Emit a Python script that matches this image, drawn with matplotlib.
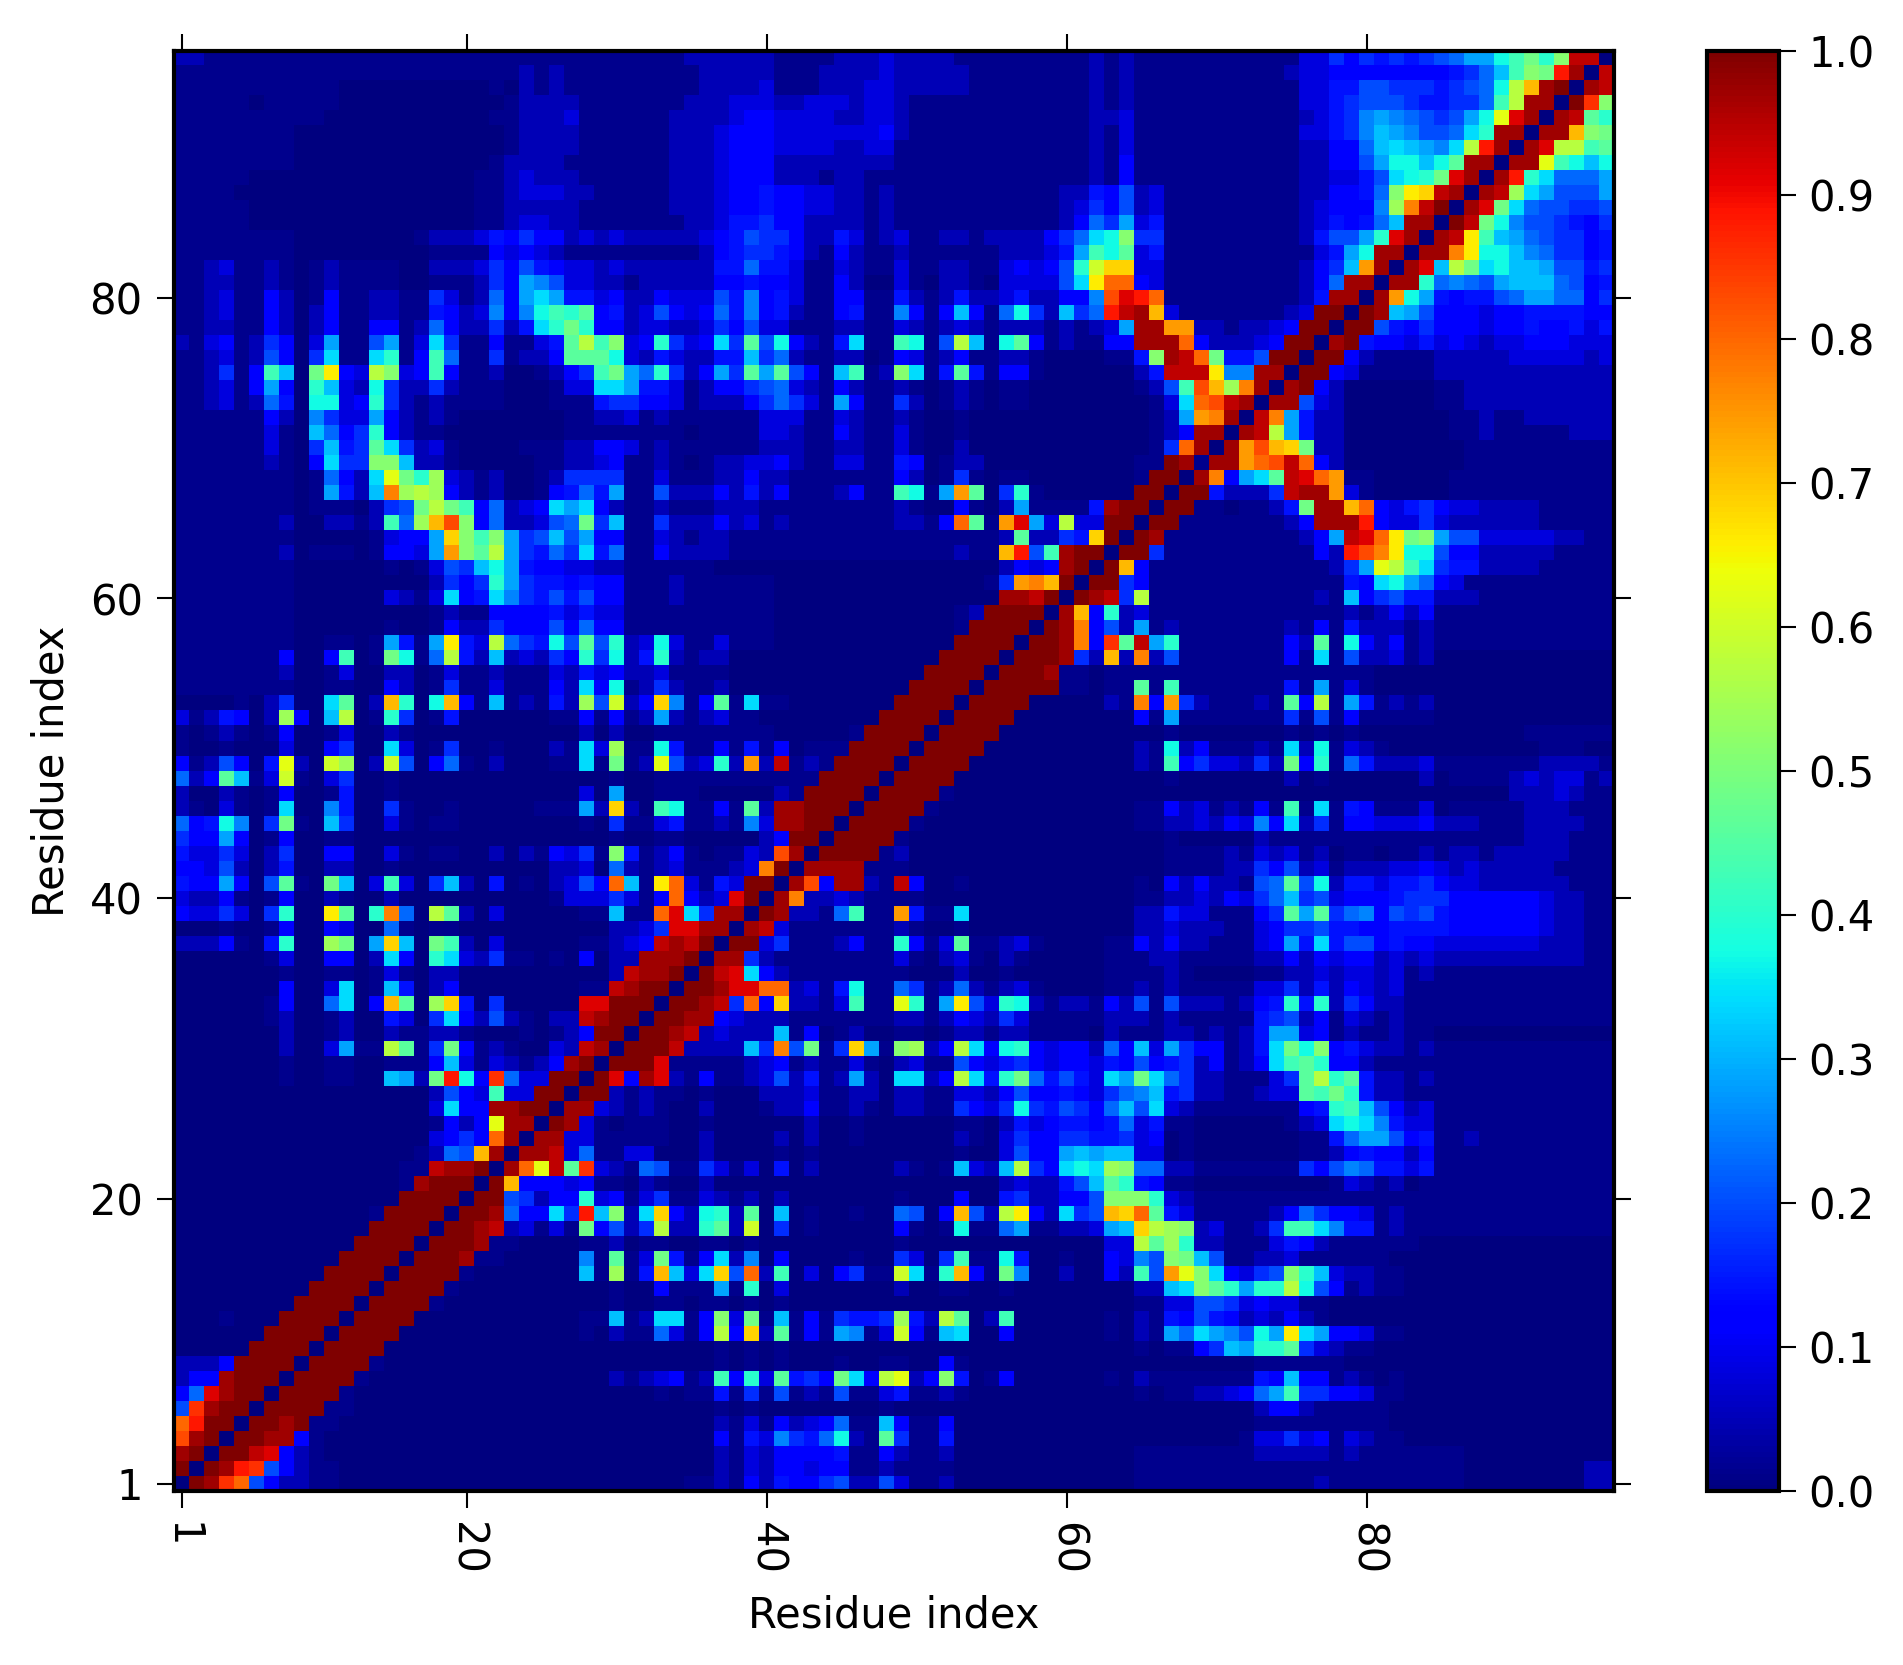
import numpy as np
import matplotlib
matplotlib.use('Agg')
import matplotlib.pyplot as plt

# one character per cell: 0 = 0.0 ... z = 1.0
levels = '0123456789abcdefghijklmnopqrstuvwxyz'
level_values = np.arange(36) / 35
# the darkest shades sit closer together than the rest
level_values[1] = 0.015
level_values[2] = 0.05

# top row of the picture first (residue 96), left to right residue 1..96
contact_rows = [
'22111111 11111111 11111111 11111111 11222222 11112223 22221111 11111212 11111111 11133646 565678aa dfheixx0',
'11111111 11111111 11111112 12111111 11122222 11122223 22222111 11111212 11111111 11233444 44444568 bfihvy0x',
'11111111 11100000 00000102 12111111 11122223 11122233 22222111 11111212 11111111 11133557 76665678 dkpyz0yx',
'11111011 11100000 00000012 22211111 11222333 22333233 21111111 11111212 11111111 11133567 77655668 fkyy0zui',
'11111111 11000000 00000112 22311111 12222344 33332233 21111111 11111223 11111111 11123569 a98767ad mwy0yxge',
'11111111 00000000 00000012 22211111 12223444 33333334 21111111 11111213 11111111 11133569 ba9778ce yy0yypih',
'11111111 00000000 00000012 22211111 12223444 33332233 11111111 11111213 11111111 11122448 bcba9ckv y0ywkkfg',
'11111111 00000000 00000122 22111111 12223444 22222222 11111111 11111214 11111111 11122447 addbdgyy 0yymfdbd',
'11111000 00000000 00001123 22211111 12223444 22212211 11111111 11111214 11111111 11122335 7cdehwy0 yvec888a',
'11110000 00000000 00001123 33221111 12223445 44332212 11111111 11122547 23111111 11122445 8inoxy0y xjca777a',
'11111000 00000000 00001122 22211111 12223445 44332212 11111111 11123647 23111111 11123444 9jrxz0yw hc877667',
'11111000 00000000 00001123 32211111 11223556 44222212 11111111 1112486a 35111111 11123545 8byy0zxh d9776546',
'11111111 00000000 12223546 44232322 22234576 64225312 31122122 22468cdi 66111111 1112577a ewy0yxnf ba876645',
'11111111 00000000 01111434 32111111 11124566 54214211 21111112 2235afdg 35111111 111135ad yy0yyrnd db986645',
'11231121 01211110 02223647 54332322 22225585 53113211 31122113 4347eloo 33111111 111246bq y0ywbkhc dbba7756',
'11221121 01211110 0111264a 97332212 22224454 43114200 31022103 3337cnss 43111111 111248yy 0yye8987 abbb8745',
'11231142 01411221 1631284a ca553422 43337594 53114411 52125223 522449tw vs111111 11125yy0 yqda5455 78aa8846',
'11231142 02411221 15423949 dfeg4523 74348594 52114511 9414b418 d62b68vx yp311111 1123zz0z yba74443 44555544',
'11221142 02411441 28422625 cehe4423 32236473 31112211 32123212 2212123a yyqq2212 234zz0zz 75464443 44544535',
'21341264 03a117a1 3c611411 35gkfi34 e634c6g7 d4215c11 fd17kb1d g4121144 yyys4222 34zz0yz5 44353432 33444333',
'11231274 06c11ce1 4f811612 24gggd32 532255b6 82112201 43124112 21000011 5iyxsh55 7zz0zz42 11112222 23333323',
'112614fb 0hn43ki3 4f411200 1246fha8 e624a6ga g741bf12 ic15g514 41000000 25xxxn99 yy0zz431 11112222 22222222',
'112314a4 0eb32d62 26211100 0133cca5 53124467 83214211 21012101 10000000 127ftpjr y0yz4200 00001122 22222222',
'11231285 0dd34e62 12111100 01115664 43122246 8631a411 62012101 10000000 013cstxy 0yy73200 00001122 22222222',
'11111142 09633a42 12100000 00112231 21111113 33113211 21001000 00000000 012aqry0 xra52200 00000112 11222222',
'11111131 0b846e42 11000000 00111111 11011113 32114211 31001000 00000000 0124yy0y xka52200 00000112 11111222',
'11111131 06b56gc6 23100001 11224431 21111112 22112211 31002000 00000000 016sy0yq tpoh2200 00000011 11111111',
'11111121 04c66iib 22100000 11223411 21012233 42113311 54012200 00000000 11zy1yyq stxs4200 00000011 11111111',
'11111111 01842cmh ej321200 12666611 31112242 21111111 42016101 10000000 1zz0yr4a cgxwsq11 00000111 11111111',
'11111111 01a52brj kj421200 14585a11 72224252 41112411 fd1aqg06 e1000000 zz0zz522 26xyyq31 00000111 11111111',
'11111111 01110267 hkhf4823 4cac4211 21112221 11111111 21004102 a11115yz z0zz1101 125hyyps 43564332 22211111',
'11111112 002212f8 jpti4822 378h6b11 62224231 21111111 2214sg1q wa3k33zz 0zz11111 1124yyyv 43363222 22211111',
'11111111 00000134 4aoifia6 7b7a4411 32122111 11111111 11111112 g2265oz0 zy111111 11124axw snhia773 33332211',
'11111112 01110144 3aqigka6 586c5811 42222111 11111111 1111211p v7fyzz0z z6111111 111142vt rndd7442 22221111',
'11111111 00000010 1376bda5 44332211 11110000 00000000 00000002 434yz0zp 41111111 1111126a mkfc6552 22211111',
'11111111 00000000 02646ea6 55454411 12111111 00000000 00000016 qrpz0zz6 41111111 11111154 cda84311 11111111',
'11111111 00000032 13c45c96 57574411 12111111 00000000 0000000y yxz0zyx6 k1111111 111121b4 67552221 11111111',
'11111111 00000000 01211444 45353311 11111111 00000000 000012zz zz0yp4e2 31111111 11111121 24241111 11111111',
'11111111 00000010 01422644 47484411 11111111 00000000 00001zzz z0zyr472 a1211111 11214152 22121111 11111111',
'11111111 001101a5 1an53k86 5d7g7e23 d3113111 00000000 0000zzzz 0zzyr4ug xae11111 1142g1d4 24121111 11111111',
'11111114 004f01hd 18k52b23 264e6d25 e2122000 00000000 000zzzz0 zzzy62p2 r2711111 1141c172 23120000 00000000',
'11111112 00130022 01311211 13253422 31111000 00000000 00zzzz0z zzy11011 11111111 11111111 00000000 00000000',
'11111111 00110042 01611311 142c4d12 62112000 00000000 0zzzz0zz zzz11011 g1f11111 1151a131 00000000 00000000',
'00001026 00cg02pe 0dp41b12 152j7l24 o914g1c1 10000000 zzzz0zzz z0000021 r4q62111 21g4k1a5 12120000 00000000',
'3125402j 40bk01e6 01500000 01141412 a2123110 0000000z zzz0zzzz 00000000 41a11111 11617141 11110000 00000000',
'10121014 00130021 00000000 00020200 11111111 000001zz zz0zzzz0 00000000 00100000 00101010 00000000 00111111',
'10010003 004600c3 01600100 021c3j11 d5114151 40111zzz z0zzzz00 00000000 21d24111 21c2d132 10000000 00011100',
'4127405m 20lj02l7 04810200 011c1h12 m723e2q2 x121zzzz 0zzzz000 00000000 21f46332 62h4e185 22231111 11122221',
'824gb13l 10360010 00000000 00000100 11111111 111zzzz0 zzzz0000 00000000 00100000 00201000 00020111 12323312',
'20021014 00150010 00000000 00030a00 11100000 21zzzz0z zzz10000 00000000 00000000 00000000 00000000 02223211',
'2103101c 00950061 00100000 111a2o20 fd1141g2 yyzzz0zz zz100000 00000000 11423121 41f1c154 11130111 11222111',
'845d906h 10b60031 01100000 00010611 35112193 yyzz0zzz z1000000 00000000 11223243 94c26144 33342221 11222211',
'644a4014 00110000 00000000 00000100 11000002 4zz0zzzz 10000000 00000000 00100000 21111111 11111111 11222111',
'53363026 00440031 01100202 14361i51 24101132 ty0zzzz1 20000000 00000000 00111121 32312011 01121221 22222111',
'44372025 00220010 00000000 02230821 2311123r z0yyyy11 10000000 00000000 00111122 64723122 23343232 22221111',
'544a407g 10hb03f3 06b20501 02374sb1 ns3153zz 0yt4yy21 x4001000 00000000 10424221 78g7d255 35564332 22222111',
'32241014 00210020 00000000 01333631 4s423wz0 yr223211 11000000 00000000 11223243 68b67344 45666444 44432211',
'4336306e 00ng0er8 0kg20300 00011b11 swc6yy0z y2218f11 q511c000 00000000 22533111 46gag689 47675444 44432211',
'00010014 00430081 01100000 00000223 6wwyy0yx 31111111 21001000 00000000 22322211 34667554 45555444 44432211',
'2224105e 00jh0aob 0hf20300 00011234 xyxz0zz3 61112411 e413g112 31000011 42422111 34a5c577 45443333 33322211',
'00000013 004402c4 0ec32611 0104022y yyz0yy62 11111111 31023102 10000011 12211111 22424344 23232222 22222211',
'00000001 00110131 02200000 000002xy yz0zxwc4 21111111 10002001 00000011 11210000 11223233 23121111 11111111',
'00000004 003c01b5 02400000 00011xyz z0zzywws s2315d11 86128212 31000011 21211111 33625243 23111111 11111111',
'00000014 008c04pg 0jo50600 000wwzzz 0zzyx6s4 o2213f11 me1an73e d2122142 71722212 45e5e264 22111111 11111111',
'00000012 00120053 06c42721 022xyzz0 zzyy4322 21111111 22124326 31111122 21211111 56724132 12111111 11111111',
'00000002 00120021 12210001 0124zz0z zyx23222 b1401200 11012212 21111021 11221212 5aa34121 12110000 00000000',
'00000002 003a11kg 16h41210 032xy0zz zx2222b6 r7h16oa1 ij24kc4d e4344284 b3a64412 5chdi453 22121111 11111111',
'00000001 00110011 14b31321 24yz0zzz w1111123 41211310 23117435 64344354 74562412 4cfge442 11111111 11111111',
'00000001 001100ba 2hvd4u83 3zz0zw4y w2141123 72512a20 cc24kc5e h85753ca hc862211 136gkeg5 22121111 11111111',
'00000000 00000000 02743f33 zz0zz212 11010002 22311220 22113324 74454368 9b562211 233gfhe5 22111111 11111111',
'00000000 00000000 03c44yyz z0yy3212 10020001 22411210 22116436 d657648b 7c321111 11145efb 74231111 11111111',
'00000000 00000000 01424myy 0zy31011 10010000 00200100 00001102 53455458 35110000 00123cdc 95331111 11111111',
'00000000 00000000 03464sy0 yy331111 10020000 20200100 00002103 64466556 34010000 0001158a a7451121 11111111',
'00000000 00000000 1287py0y yx381133 00020000 10100000 00001003 744ababb 33010000 00011245 44241111 11111111',
'00000000 00000001 1xyyz0ys mxgu3218 71163130 50200000 2101b32b k64cdcji 88221111 11164798 55351111 11111111',
'00000000 00000001 yzzz0zp4 44341102 10020000 00000000 00000002 32257bge 54110000 00000132 12011111 11111111',
'00000000 0000000z zzz0zz76 244e3413 61132120 20000000 10004005 622447ii ie321111 11111111 11111111 11111111',
'00000000 000001zz zz0zzy84 4c6vbi2c o42de2g0 b0100100 8704p72k n42c67po sg531111 12486443 12111111 11111111',
'00000000 00000zzz z0zzyx23 131h4726 k22eg2l0 60100000 4101d118 a11223ab okji2311 26ffc955 12111111 11111111',
'00000000 0000zzzz 0zzzy110 00011201 10011010 00000000 10000000 00000033 kgje2211 13542111 11100000 00000000',
'00000000 000zzzz0 zzzy1100 00091g13 h514c290 40000100 6306f11d 50010043 97ihb711 22311111 10000000 00000000',
'00000000 00zzzz0z zzz10000 000b1j15 pb3co7s2 f0304611 lc1ep41h 90020042 f7qmic43 67ieb322 11000000 00000000',
'00000000 0zzzz0zz zz100000 00000100 4111a1e0 30000000 20011001 00000000 22bcigea eekd7412 11000000 00000000',
'00000000 zzzz0zzz z1000000 00000100 11011010 10000000 00000000 00000000 11337763 43311000 00000000 00000000',
'0001000z zzz0zzzz 00000000 00011b12 cc14i3h1 b1416556 j52kg02f 00000010 21547542 32421000 00000000 00000000',
'000000zz zz0zzzz0 00000000 00010211 8314k4o2 g141a913 l41bc004 00000010 21a8ca97 danca443 11000000 00000000',
'00000zzz z0zzzz00 00000000 00000000 00001010 10000000 00000000 00000000 101146ba eeg63211 00000000 00000000',
'2224zzzz 0zzzz100 00000000 00000000 00001010 10001001 10041000 00000000 00000000 11111100 00000000 00000000',
'244yzzz0 zzzz1000 00000000 00000212 3412f4e3 g564hc4k m24i5014 00000010 21111111 54b44121 01000000 00000000',
'48wyzz0z zzz10000 00000000 00000000 10115161 71217113 51121000 00000000 10112234 8af66443 11000000 00000000',
'7uyzz0zz zz110000 00000000 00000000 00001010 00000001 00000000 00000000 00000000 24421111 10000000 00000000',
'svzz0zzy z1100000 00000000 00000000 00002131 4234811b 41140000 00000000 00000000 11111111 10000000 00000000',
'tyz0zzyy 41000000 00000000 00000000 00004153 9658d21g 61150000 00000000 00000001 33634132 11000000 00000000',
'yz0zzxw4 21000000 00000000 00000000 00002132 44445114 21120000 00000000 11111111 22222121 11111100 00000000',
'z0zyvu74 21100000 00000000 00000000 00002132 44344112 11110000 00000000 11111111 11111111 11111100 00000022',
'0zyus742 21100000 00000000 00000000 00112142 54467227 31120000 00000000 11111111 11112111 11111100 00000022',
]

residue_ticks = [1, 20, 40, 60, 80]
cbar_ticks = [0.0, 0.1, 0.2, 0.3, 0.4, 0.5, 0.6, 0.7, 0.8, 0.9, 1.0]

rows = [r.replace(' ', '') for r in contact_rows]
contacts = np.array([[level_values[levels.index(c)] for c in r] for r in rows])

W, H = 1903, 1665
fig = plt.figure(figsize=(W / 300, H / 300), dpi=300)
plt.rcParams['font.size'] = 10

ax = fig.add_axes([174 / W, (H - 1491) / H, 1440 / W, 1440 / H])
im = ax.imshow(contacts[::-1], origin='lower', cmap='jet', vmin=0, vmax=1,
               interpolation='nearest', extent=(0.5, 96.5, 0.5, 96.5), aspect='auto')
ax.set_xticks(residue_ticks)
ax.set_yticks(residue_ticks)
ax.set_xticklabels(residue_ticks, rotation=270, fontsize=10)
ax.set_yticklabels(residue_ticks, fontsize=10)
ax.tick_params(direction='out', length=4, width=0.5, top=True, right=True, pad=3.5)
ax.set_xlabel('Residue index', fontsize=10, labelpad=4.5)
ax.set_ylabel('Residue index', fontsize=10, labelpad=4)
for s in ax.spines.values():
    s.set_linewidth(1.0)

cax = fig.add_axes([1707 / W, (H - 1491) / H, 72 / W, 1440 / H])
cb = fig.colorbar(im, cax=cax, ticks=cbar_ticks)
cb.ax.set_yticklabels(['%.1f' % t for t in cbar_ticks], fontsize=10)
cb.ax.tick_params(direction='out', length=4, width=0.5, pad=3)
cb.outline.set_linewidth(1.0)

fig.savefig('out.png', dpi=300)
